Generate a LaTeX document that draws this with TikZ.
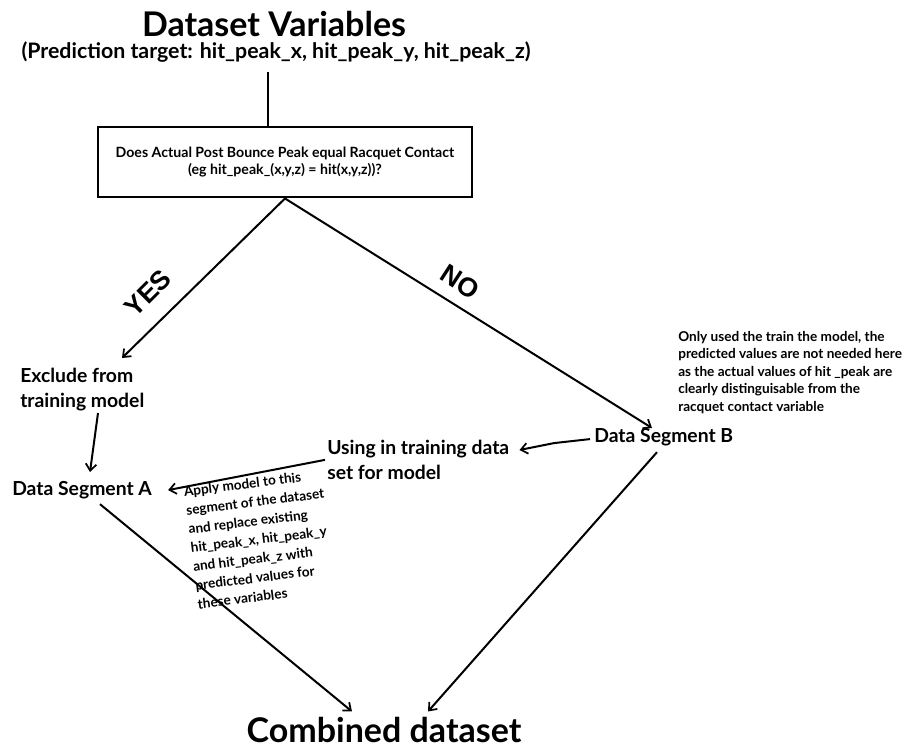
\documentclass[tikz,border=0pt]{standalone}
\usepackage{fontspec}
\setmainfont{Lato}
\newfontfamily\arialfont{Liberation Sans}
\usetikzlibrary{arrows.meta,calc}

\tikzset{
  px/.style={x=0.75pt,y=-0.75pt},
  link/.style={line width=1.5pt,-{Straight Barb[length=5pt,width=8pt,line width=1.3pt]}},
  plain/.style={line width=1.5pt},
  label/.style={inner sep=0pt,align=left,font=\bfseries\fontsize{14.5}{18.5}\selectfont},
  smallnote/.style={inner sep=0pt,align=left,font=\bfseries\fontsize{10.2}{13.1}\selectfont},
  branch/.style={inner sep=0pt,font=\arialfont\bfseries\fontsize{20}{20}\selectfont},
  heading/.style={inner sep=0pt,anchor=base,font=\bfseries\fontsize{25.5}{25.5}\selectfont},
}

\begin{document}
\begin{tikzpicture}[px]
\useasboundingbox (0,0) rectangle (912,747);

% heading
\node[heading] (title) at (274,36) {Dataset Variables};
\node[inner sep=0pt,anchor=base,font=\bfseries\fontsize{16}{16}\selectfont] (sub) at (276,58)
  {(Prediction target: hit\_peak\_x, hit\_peak\_y, hit\_peak\_z)};
\coordinate (stem) at (268,72);

% decision box
\node[draw,line width=2.2pt,minimum width=280.5pt,minimum height=52.5pt,inner sep=0pt,
      align=center,font=\bfseries\fontsize{10.6}{14.5}\selectfont] (box) at (285,162)
  {\raisebox{-2pt}{Does Actual Post Bounce Peak equal Racquet Contact}\\(eg hit\_peak\_(x,y,z) = hit(x,y,z))?};

% outcomes
\node[label,anchor=north west] (excl) at (20,368) {Exclude from\\training model};
\node[label,anchor=north west] (segA) at (12,481) {Data Segment A};
\node[label,anchor=north west] (using) at (327,440) {Using in training data\\set for model};
\node[label,anchor=north west] (segB) at (594,428) {Data Segment B};
\node[heading] (comb) at (384,742) {Combined dataset};

% notes
\node[smallnote,anchor=north west] (noteB) at (678,331)
  {Only used the train the model, the\\predicted values are not needed here\\as the actual values of hit \_peak are\\clearly distinguisable from the\\racquet contact variable};
\node[smallnote,anchor=north west,rotate=7,font=\bfseries\fontsize{10.2}{14.2}\selectfont] (noteA) at (183,486)
  {Apply model to this\\segment of the dataset\\and replace existing\\hit\_peak\_x, hit\_peak\_y\\and hit\_peak\_z with\\predicted values for\\these variables};

% branch labels
\node[branch,rotate=45] (yes) at (148,293) {YES};
\node[branch,rotate=-33] (no) at (460,282) {NO};

% connectors
\draw[plain] (stem) -- (stem |- box.north);
\draw[link] (box.south) -- ($(excl.north west)+(102,-10)$);
\draw[link] (box.south) -- ($(segB.north west)+(58,0)$);
\draw[link] ($(excl.south west)+(78,2)$) -- ($(segA.north west)+(78,-9)$);
\draw[plain] ($(segB.west)+(-4,2)$) -- ($(segB.west)+(-40,6)$);
\draw[link] ($(segB.west)+(-40,6)$) -- ($(using.north east)+(10,10)$);
\draw[link] ($(using.west)+(-2,0)$) -- ($(segA.east)+(16,0)$);
\draw[link] ($(segA.south west)+(88,5)$) -- ($(comb.north)+(-32,-5)$);
\draw[link] ($(segB.south west)+(63,6)$) -- ($(comb.north)+(44,-5)$);
\end{tikzpicture}
\end{document}
